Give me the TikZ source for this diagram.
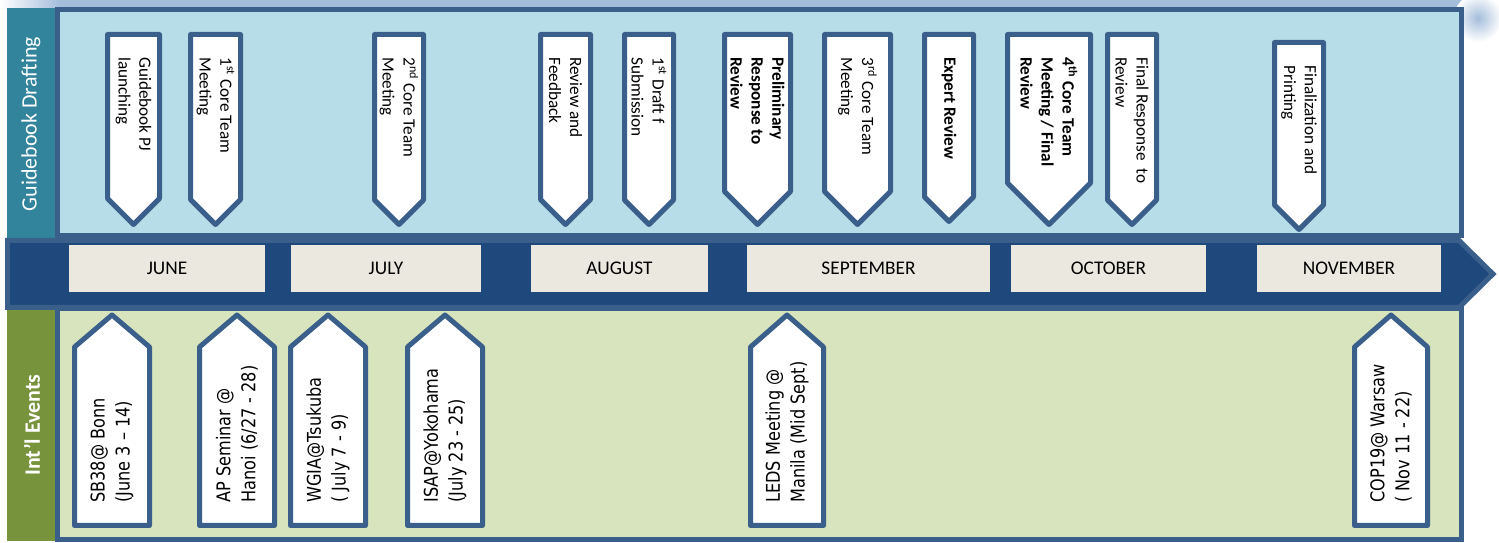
\documentclass[tikz,border=0pt]{standalone}
\usepackage{fontspec}
\setmainfont{Carlito}
\newfontfamily\eventfont[FakeStretch=0.85]{DejaVu Sans}

\definecolor{bandblue}{HTML}{A4BDDB}
\definecolor{topfill}{HTML}{B7DEE8}
\definecolor{topstrip}{HTML}{31849B}
\definecolor{botfill}{HTML}{D7E4BD}
\definecolor{botstrip}{HTML}{77933C}
\definecolor{edgeblue}{HTML}{3A5F8B}
\definecolor{barblue}{HTML}{1F487C}
\definecolor{monthfill}{HTML}{EBE9DF}

\newcommand{\tagfont}{\fontsize{9.8}{11.9}\selectfont}
\newcommand{\evfont}{\eventfont\fontsize{10.8}{14.2}\selectfont}
\newcommand{\monthfont}{\fontsize{11}{13}\selectfont}
\newcommand{\sidefont}{\fontsize{12.5}{15}\selectfont}

\tikzset{
  tag/.style={draw=edgeblue, fill=white, line width=0.1cm, line join=round},
  panel/.style={draw=edgeblue, line width=0.1cm},
  monthbox/.style={fill=monthfill, minimum height=0.94cm, inner sep=0, font=\monthfont}
}

\begin{document}
\begin{tikzpicture}[x=0.02cm, y=-0.02cm]

      \useasboundingbox (0,0) rectangle (1499,543);

      \shade[left color=white, right color=bandblue] (0,0) rectangle (60,9);
      \fill[bandblue] (60,0) rectangle (1462,9);
      \shade[inner color=bandblue, outer color=white] (1478,18) circle (24);

      \fill[topstrip] (7,8) rectangle (55,238);
      \fill[botstrip] (7,308) rectangle (55,541);
      \draw[panel, fill=topfill] (57,9.5) rectangle (1461.5,235.5);
      \draw[panel, fill=botfill] (57,309) rectangle (1461.5,539.5);

      \node[rotate=90, text=white, font=\sidefont] (drafting) at (31,124) {Guidebook Drafting};
      \node[rotate=90, text=white, font=\sidefont\bfseries] (events) at (32,425) {Int’l Events};

      \draw[line width=0.1cm, draw=edgeblue, fill=barblue]
        (7.5,240.5) -- (1459,240.5) -- (1493,274) -- (1459,307.5) -- (7.5,307.5) -- cycle;

      \begin{scope}[every node/.style={monthbox}]
        \node[minimum width=3.92cm] (jun) at (167,268.5)    {JUNE};
        \node[minimum width=3.80cm] (jul) at (386,268.5)    {JULY};
        \node[minimum width=3.54cm] (aug) at (619.5,268.5)  {AUGUST};
        \node[minimum width=4.86cm] (sep) at (868.5,268.5)  {SEPTEMBER};
        \node[minimum width=3.90cm] (oct) at (1108.5,268.5) {OCTOBER};
        \node[minimum width=3.68cm] (nov) at (1349,268.5)   {NOVEMBER};
      \end{scope}

      \draw[tag] (107.5,34.5)  -| (159.5,198.5)  -- (133.5,224.5)  -- (107.5,198.5)  -- cycle;
      \draw[tag] (190.5,34.5)  -| (240.5,199.5)  -- (215.5,224.5)  -- (190.5,199.5)  -- cycle;
      \draw[tag] (374.5,34.5)  -| (423.5,200)    -- (399,224.5)    -- (374.5,200)    -- cycle;
      \draw[tag] (540.5,34.5)  -| (590.5,199.5)  -- (565.5,224.5)  -- (540.5,199.5)  -- cycle;
      \draw[tag] (624.5,34.5)  -| (673.5,200)    -- (649,224.5)    -- (624.5,200)    -- cycle;
      \draw[tag] (724.5,34.5)  -| (790.5,191.5)  -- (757.5,224.5)  -- (724.5,191.5)  -- cycle;
      \draw[tag] (824.5,34.5)  -| (890.5,191.5)  -- (857.5,224.5)  -- (824.5,191.5)  -- cycle;
      \draw[tag] (924.5,34.5)  -| (973.5,197)    -- (949,221.5)    -- (924.5,197)    -- cycle;
      \draw[tag] (1007.5,34.5) -| (1090.5,183)   -- (1049,224.5)   -- (1007.5,183)   -- cycle;
      \draw[tag] (1107.5,34.5) -| (1156.5,200)   -- (1132,224.5)   -- (1107.5,200)   -- cycle;
      \draw[tag] (1274.5,42.5) -| (1323.5,205)   -- (1299,229.5)   -- (1274.5,205)   -- cycle;

      \draw[tag] (74.5,525.5)   -- (74.5,347)   -- (112,315)  -- (149.5,347)  -- (149.5,525.5)  -- cycle;
      \draw[tag] (199.5,525.5)  -- (199.5,347)  -- (237,315)  -- (274.5,347)  -- (274.5,525.5)  -- cycle;
      \draw[tag] (290.5,525.5)  -- (290.5,347)  -- (328,315)  -- (365.5,347)  -- (365.5,525.5)  -- cycle;
      \draw[tag] (407.5,525.5)  -- (407.5,347)  -- (445,315)  -- (482.5,347)  -- (482.5,525.5)  -- cycle;
      \draw[tag] (750.5,525.5)  -- (750.5,347)  -- (787,315)  -- (823.5,347)  -- (823.5,525.5)  -- cycle;
      \draw[tag] (1354.5,525.5) -- (1354.5,347) -- (1391,315) -- (1427.5,347) -- (1427.5,525.5) -- cycle;

      \begin{scope}[every node/.style={rotate=-90, anchor=west, inner sep=0, align=left, font=\tagfont}]
        \node (launch)    at (133.5,57) {Guidebook PJ\\launching};
        \node (core1)     at (215.5,57) {1\textsuperscript{st} Core Team\\Meeting};
        \node (core2)     at (399,57)   {2\textsuperscript{nd} Core Team\\Meeting};
        \node (review)    at (565.5,57) {Review and\\Feedback};
        \node (draft1)    at (649,57)   {1\textsuperscript{st} Draft f\\Submission};
        \node[font=\tagfont\bfseries] (prelim) at (757.5,57) {Preliminary\\Response to\\Review};
        \node (core3)     at (857.5,57) {3\textsuperscript{rd} Core Team\\Meeting};
        \node[font=\tagfont\bfseries] (expert) at (949,57) {Expert Review};
        \node[font=\tagfont\bfseries] (core4)  at (1049,57) {4\textsuperscript{th} Core Team\\Meeting / Final\\Review};
        \node (finalresp) at (1132,57)  {Final Response~ to\\Review};
        \node (printing)  at (1299,65)  {Finalization and\\Printing};
      \end{scope}

      \begin{scope}[every node/.style={rotate=90, anchor=west, inner sep=0, align=left, font=\evfont}]
        \node (sb38)  at (112,503)  {SB38@ Bonn\\(June 3 – 14)};
        \node (apsem) at (237,503)  {AP Seminar @\\Hanoi (6/27 - 28)};
        \node (wgia)  at (328,503)  {WGIA@Tsukuba\\( July 7 - 9)};
        \node (isap)  at (445,503)  {ISAP@Yokohama\\(July 23 - 25)};
        \node (leds)  at (787,503)  {LEDS Meeting @\\Manila (Mid Sept)};
        \node (cop19) at (1391,503) {COP19@ Warsaw\\( Nov 11 - 22)};
      \end{scope}

    \end{tikzpicture}
\end{document}
